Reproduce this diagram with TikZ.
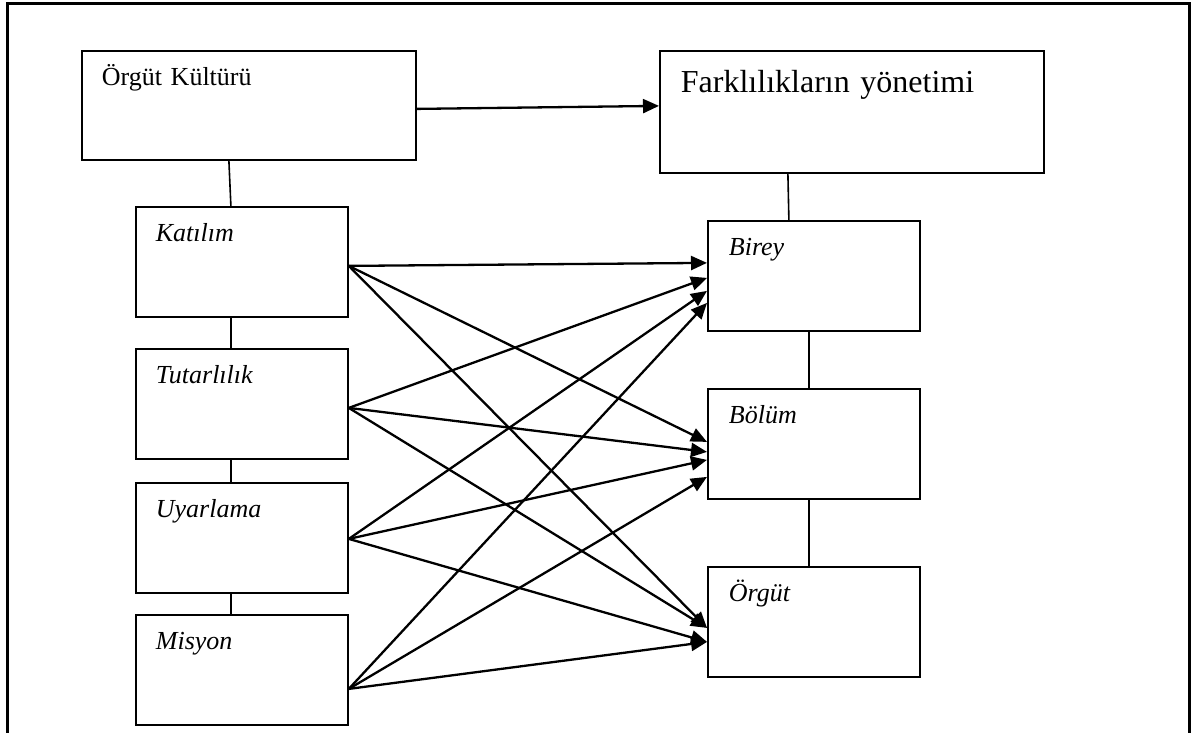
\documentclass[tikz,border=0pt]{standalone}
\usepackage{fontspec}
\setmainfont{Liberation Serif}
\usepackage{tikz}
\usetikzlibrary{shapes}
\usetikzlibrary{arrows.meta}
\tikzstyle{box}=[draw=black,rectangle,line width=1.8pt,anchor=north west,inner xsep=20pt,inner ysep=0pt,align=left,text height=35pt,text width=172pt,text depth=75pt,font=\fontsize{26}{30}\selectfont\itshape]
\tikzstyle{bigbox}=[box,font=\fontsize{26}{30}\selectfont,text width=294pt,text depth=74pt]
\tikzstyle{arrow}=[->,>={Triangle[length=16pt,width=14pt]},line width=2.3pt]
\tikzstyle{link}=[line width=1.6pt]
\tikzset{every picture/.style={
    x=1pt,y=-1pt
  }
}
\begin{document}
\begin{tikzpicture}
      \useasboundingbox (0,0) rectangle (1192,733);
      \draw[line width=3pt] (7,745) -- (7,4) -- (1189,4) -- (1189,745);
      \node[bigbox] at (81,50) (kultur) {Örgüt Kültürü};
      \node[bigbox,inner xsep=21pt,text width=342pt,text height=42pt,text depth=80pt,font=\fontsize{32}{36}\selectfont] at (659,50) (fark) {Farklılıkların yönetimi};
      \node[box] at (135,206) (katilim) {Katılım};
      \node[box] at (135,348) (tutar) {Tutarlılık};
      \node[box,text depth=75pt] at (135,482) (uyar) {Uyarlama};
      \node[box] at (135,614) (misyon) {Misyon};
      \node[box,inner xsep=21pt,text width=170pt] at (707,220) (birey) {Birey};
      \node[box,inner xsep=21pt,text width=170pt] at (707,388) (bolum) {Bölüm};
      \node[box,inner xsep=21pt,text width=170pt] at (707,566) (orgut) {Örgüt};
      \draw[link] ([xshift=-20pt]kultur.south) -- ([xshift=-11pt]katilim.north);
      \draw[link] ([xshift=-11pt]katilim.south) -- ([xshift=-11pt]tutar.north);
      \draw[link] ([xshift=-11pt]tutar.south) -- ([xshift=-11pt]uyar.north);
      \draw[link] ([xshift=-11pt]uyar.south) -- ([xshift=-11pt]misyon.north);
      \draw[link] ([xshift=-64pt]fark.south) -- ([xshift=-25pt]birey.north);
      \draw[link] ([xshift=-5pt]birey.south) -- ([xshift=-5pt]bolum.north);
      \draw[link] ([xshift=-5pt]bolum.south) -- ([xshift=-5pt]orgut.north);
      \draw[arrow] ([yshift=-3.5pt]kultur.east) -- ([yshift=6pt]fark.west);
      \draw[arrow] ([yshift=-4pt]katilim.east) -- ([yshift=13pt]birey.west);
      \draw[arrow] ([yshift=-4pt]katilim.east) -- ([yshift=2pt]bolum.west);
      \draw[arrow] ([yshift=-4pt]katilim.east) -- ([yshift=-6pt]orgut.west);
      \draw[arrow] ([yshift=-4pt]tutar.east) -- ([yshift=-2pt]birey.west);
      \draw[arrow] ([yshift=-4pt]tutar.east) -- ([yshift=-8pt]bolum.west);
      \draw[arrow] ([yshift=-4pt]tutar.east) -- ([yshift=-6pt]orgut.west);
      \draw[arrow] ([yshift=-1pt]uyar.east) -- ([yshift=-15pt]birey.west);
      \draw[arrow] ([yshift=-1pt]uyar.east) -- ([yshift=-16pt]bolum.west);
      \draw[arrow] ([yshift=-1pt]uyar.east) -- ([yshift=-20pt]orgut.west);
      \draw[arrow] ([yshift=-19pt]misyon.east) -- ([yshift=-27pt]birey.west);
      \draw[arrow] ([yshift=-19pt]misyon.east) -- ([yshift=-33pt]bolum.west);
      \draw[arrow] ([yshift=-19pt]misyon.east) -- ([yshift=-20pt]orgut.west);
    \end{tikzpicture}
\end{document}
